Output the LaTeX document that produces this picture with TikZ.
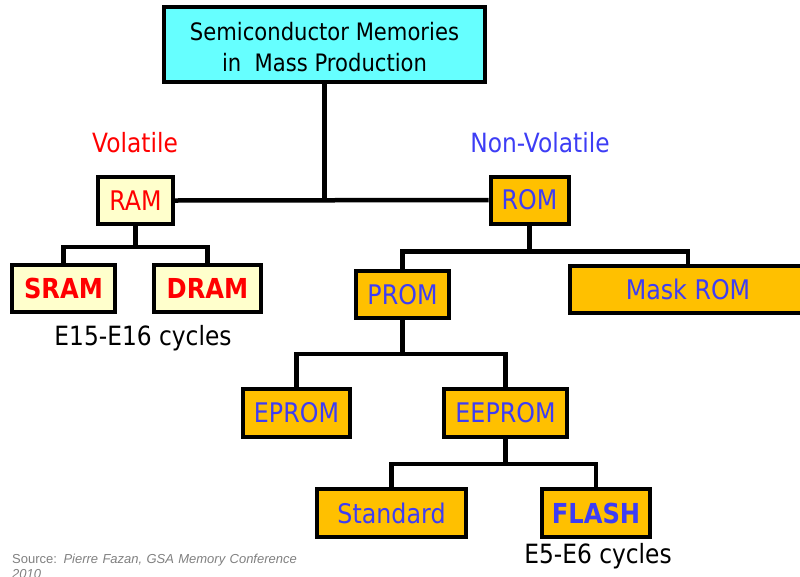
\documentclass[tikz,border=0pt]{standalone}
\usepackage{fontspec}
\setmainfont{DejaVu Sans}[FakeStretch=0.88]
\newfontfamily\srcfont{Liberation Sans}
\usetikzlibrary{shadows}

\definecolor{titlecyan}{HTML}{66FFFF}
\definecolor{volfill}{HTML}{FFFFCC}
\definecolor{nvfill}{HTML}{FFC000}
\definecolor{volred}{HTML}{FF0000}
\definecolor{nvblue}{HTML}{3D3DF5}
\definecolor{srcgray}{HTML}{808080}

\begin{document}
\begin{tikzpicture}[x=1pt, y=-1pt,
    box/.style={rectangle, draw, line width=4pt, inner sep=0pt, minimum height=47pt, font=\fontsize{27}{30}\selectfont, drop shadow={shadow xshift=1.5pt, shadow yshift=-1.5pt, fill=black!30}},
    volbox/.style={box, fill=volfill, text=volred},
    nvbox/.style={box, fill=nvfill, text=nvblue},
    boldbox/.style={font=\fontsize{27.5}{30}\selectfont\bfseries},
    group/.style={font=\fontsize{26.5}{30}\selectfont},
    link/.style={line width=4.5pt}
]
    \useasboundingbox (0,0) rectangle (800,576);

    % Place nodes
    \node [box, fill=titlecyan, minimum width=321pt, minimum height=75pt, align=center, font=\fontsize{24}{31}\selectfont] (title) at (324.5,44.5) {\rule{0pt}{24pt}Semiconductor Memories\\in\ \ Mass Production};
    \node [group, text=volred] (volatile) at (135,143) {Volatile};
    \node [group, text=nvblue] (nonvolatile) at (540,143) {Non-Volatile};

    \node [volbox, minimum width=75pt] (RAM) at (135.5,200.5) {RAM};
    \node [volbox, boldbox, minimum width=103pt] (SRAM) at (63.5,288.5) {SRAM};
    \node [volbox, boldbox, minimum width=107pt] (DRAM) at (207.5,288.5) {DRAM};
    \node [group] (ramcycles) at (143,338) {E15-E16 cycles};

    \node [nvbox, minimum width=78pt] (ROM) at (529.5,200) {ROM};
    \node [nvbox, minimum width=93pt] (PROM) at (402.5,294.5) {PROM};
    \node [nvbox, minimum width=236pt] (maskrom) at (688,289) {Mask ROM};
    \node [nvbox, minimum width=107pt, minimum height=48pt] (EPROM) at (296.5,413) {EPROM};
    \node [nvbox, minimum width=123pt, minimum height=48pt] (EEPROM) at (505.5,413) {EEPROM};
    \node [nvbox, minimum width=149pt, minimum height=48pt] (standard) at (391.5,513) {Standard};
    \node [nvbox, boldbox, minimum width=108pt, minimum height=48pt] (FLASH) at (596,513) {FLASH};
    \node [group] (flashcycles) at (598,556) {E5-E6 cycles};

    \node [anchor=north west, align=left, inner sep=0pt, text=srcgray, font=\srcfont\fontsize{13}{15}\selectfont, text width=300pt] (source) at (12,554) {Source: \textit{Pierre Fazan, GSA Memory Conference 2010}};

    % Draw edges
    \draw [link] (title.south) -- (title.south |- RAM.east);
    \draw [link] (RAM.east) -- (ROM.west);
    \draw [link] (RAM.south) -- ++(0,21) -| (SRAM.north);
    \draw [link] (RAM.south) -- ++(0,21) -| (DRAM.north);
    \draw [link] (ROM.south) -- ++(0,26) -| (PROM.north);
    \draw [link] (ROM.south) -- ++(0,26) -| (maskrom.north);
    \draw [link] (PROM.south) -- ++(0,34) -| (EPROM.north);
    \draw [link] (PROM.south) -- ++(0,34) -| (EEPROM.north);
    \draw [link] (EEPROM.south) -- ++(0,25) -| (standard.north);
    \draw [link] (EEPROM.south) -- ++(0,25) -| (FLASH.north);
\end{tikzpicture}
\end{document}
